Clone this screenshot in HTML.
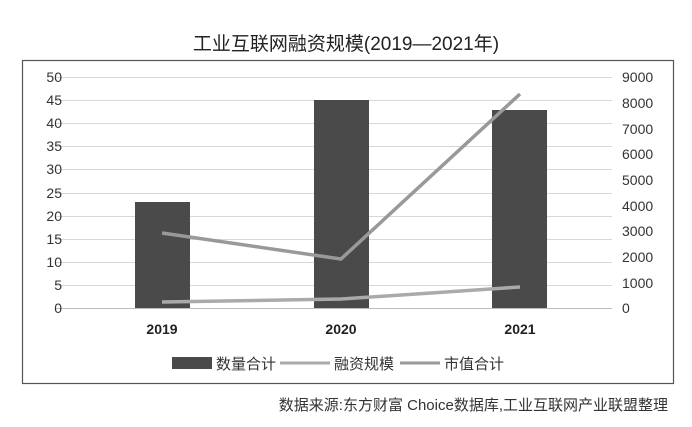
<!DOCTYPE html>
<html><head><meta charset="utf-8"><style>
body{margin:0;background:#fff;width:692px;height:422px;overflow:hidden}
text{font-family:"Liberation Sans","Noto Sans CJK SC",sans-serif}
</style></head><body>
<svg width="692" height="422" viewBox="0 0 692 422">
<text x="346" y="50" text-anchor="middle" font-size="19" fill="#222">工业互联网融资规模(2019—2021年)</text>
<rect x="22.5" y="60.5" width="651" height="323" fill="#fff" stroke="#555" stroke-width="1.2"/>
<g stroke="#d8d8d8" stroke-width="1">
<line x1="55" x2="612" y1="77.5" y2="77.5"/><line x1="55" x2="612" y1="100.5" y2="100.5"/>
<line x1="55" x2="612" y1="123.5" y2="123.5"/><line x1="55" x2="612" y1="146.5" y2="146.5"/>
<line x1="55" x2="612" y1="169.5" y2="169.5"/><line x1="55" x2="612" y1="193.5" y2="193.5"/>
<line x1="55" x2="612" y1="216.5" y2="216.5"/><line x1="55" x2="612" y1="239.5" y2="239.5"/>
<line x1="55" x2="612" y1="262.5" y2="262.5"/><line x1="55" x2="612" y1="285.5" y2="285.5"/>
<line x1="55" x2="612" y1="308.5" y2="308.5" stroke="#bbb"/>
</g>
<g font-size="14" fill="#333" text-anchor="end">
<text x="62" y="82">50</text><text x="62" y="105">45</text><text x="62" y="128">40</text><text x="62" y="151">35</text><text x="62" y="174">30</text><text x="62" y="198">25</text><text x="62" y="221">20</text><text x="62" y="244">15</text><text x="62" y="267">10</text><text x="62" y="290">5</text><text x="62" y="313">0</text>
</g>
<g font-size="14" fill="#333" text-anchor="start">
<text x="622" y="82">9000</text><text x="622" y="108">8000</text><text x="622" y="134">7000</text><text x="622" y="159">6000</text><text x="622" y="185">5000</text><text x="622" y="211">4000</text><text x="622" y="236">3000</text><text x="622" y="262">2000</text><text x="622" y="288">1000</text><text x="622" y="313">0</text>
</g>
<g fill="#4a4a4a">
<rect x="135" y="202" width="55" height="106"/>
<rect x="314" y="100" width="55" height="208"/>
<rect x="492" y="110" width="55" height="198"/>
</g>
<polyline points="162,233 341,259 520,94" fill="none" stroke="#999" stroke-width="3.5"/>
<polyline points="162,302 341,299 520,287" fill="none" stroke="#aaa" stroke-width="3.5"/>
<g font-size="14" fill="#222" text-anchor="middle" font-weight="bold">
<text x="162" y="334">2019</text><text x="341" y="334">2020</text><text x="520" y="334">2021</text>
</g>
<rect x="172" y="357" width="40" height="12" fill="#4a4a4a"/>
<text x="216" y="369" font-size="15" fill="#333">数量合计</text>
<line x1="280" x2="330" y1="363" y2="363" stroke="#aaa" stroke-width="3"/>
<text x="334" y="369" font-size="15" fill="#333">融资规模</text>
<line x1="400" x2="440" y1="363" y2="363" stroke="#999" stroke-width="3"/>
<text x="444" y="369" font-size="15" fill="#333">市值合计</text>
<text x="668" y="410" text-anchor="end" font-size="15" fill="#333" font-family="'Noto Serif CJK SC','Liberation Serif',serif">数据来源:东方财富 Choice数据库,工业互联网产业联盟整理</text>
</svg>
</body></html>
